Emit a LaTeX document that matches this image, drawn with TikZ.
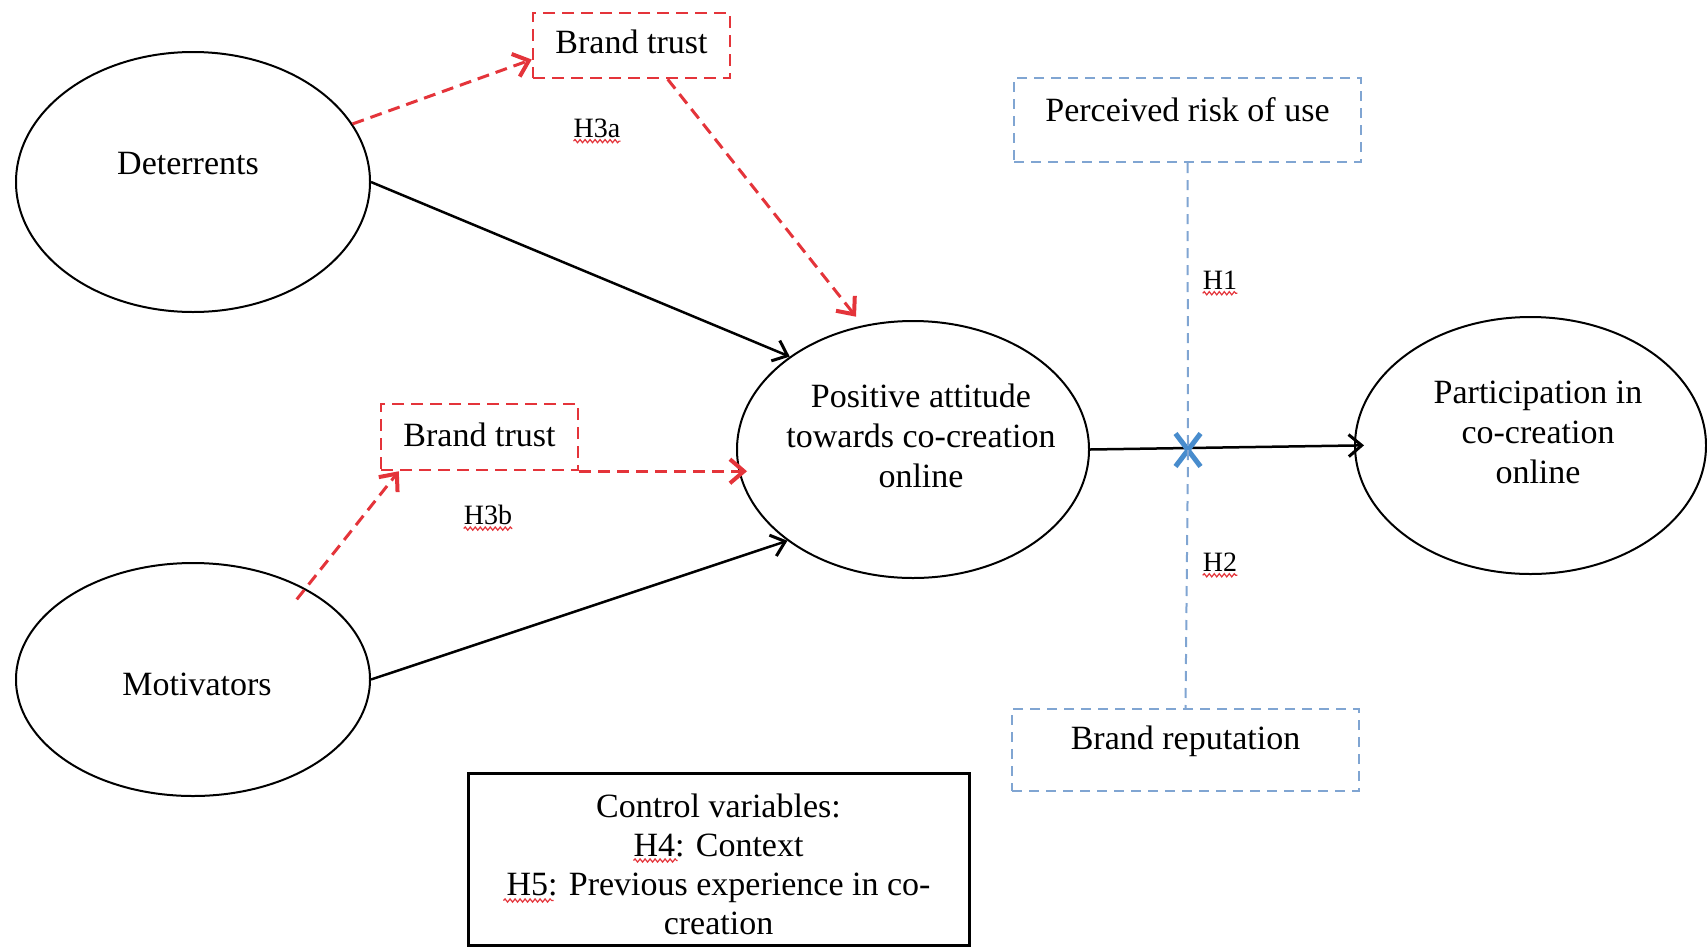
\documentclass[tikz,border=0pt]{standalone}
\usepackage{fontspec}
\setmainfont{Liberation Serif}
\usetikzlibrary{arrows.meta,shapes.geometric,shapes.misc,decorations.pathmorphing,calc}
\definecolor{hypred}{RGB}{228,52,58}
\definecolor{modblue}{RGB}{128,165,210}
\definecolor{crossblue}{RGB}{72,140,205}
\begin{document}
\begin{tikzpicture}[x=1pt,y=-1pt,
  construct/.style={draw, ellipse, line width=2pt, inner sep=0pt},
  lbl/.style={font=\fontsize{34}{40}\selectfont, align=center, inner sep=0pt},
  hyp/.style={font=\fontsize{28}{32}\selectfont, inner sep=0pt},
  redbox/.style={draw=hypred, line width=2.5pt, dash pattern=on 12pt off 7pt, inner sep=0pt,
                 font=\fontsize{34}{40}\selectfont},
  bluebox/.style={draw=modblue, line width=2pt, dash pattern=on 10pt off 7pt, inner sep=0pt,
                  font=\fontsize{34}{40}\selectfont},
  effect/.style={line width=2.5pt, -{Straight Barb[length=13pt,width=22pt,line width=3pt]}},
  moder/.style={hypred, line width=3pt, dash pattern=on 12pt off 7pt,
                -{Straight Barb[length=14pt,width=24pt,line width=4pt]}},
  modline/.style={modblue, line width=2pt, dash pattern=on 10pt off 7pt},
  wavy/.style={hypred, line width=1.2pt, decorate,
               decoration={snake, amplitude=1.6pt, segment length=5pt}}
]
\useasboundingbox (0,0) rectangle (1707,948);

% constructs
\node[construct, minimum width=354pt, minimum height=260pt] (det) at (193,182) {};
\node[construct, minimum width=354pt, minimum height=233pt] (mot) at (193,679.5) {};
\node[construct, minimum width=352pt, minimum height=257pt] (pa) at (913,449.5) {};
\node[construct, minimum width=351pt, minimum height=257pt] (pp) at (1530.5,445.5) {};

\node[lbl] (detT) at (188,164) {Deterrents};
\node[lbl] (motT) at (197,684) {Motivators};
\node[lbl] (paT) at (921,436) {Positive attitude\\towards co-creation\\online};
\node[lbl] (ppT) at (1538,432) {Participation in\\co-creation\\online};

% moderators
\node[redbox, minimum width=197pt, text height=40pt, text depth=25pt] (bt1) at (631.5,45.5) {Brand trust};
\node[redbox, minimum width=197pt, text height=42pt, text depth=24pt] (bt2) at (479.5,437) {Brand trust};
\node[bluebox, minimum width=347pt, text height=43pt, text depth=41pt] (pr) at (1187.5,120) {Perceived risk of use};
\node[bluebox, minimum width=347pt, text height=40pt, text depth=42pt] (br) at (1185.5,750) {Brand reputation};

% control variables
\node[draw, line width=3pt, minimum width=501pt, minimum height=172pt, inner sep=0pt] (cv) at (718.5,859.5) {};
\node[font=\fontsize{34}{39}\selectfont, align=center, inner sep=0pt] (cvT) at (718.5,864.5)
  {Control variables:\\H4: Context\\H5: Previous experience in co-\\creation};

% hypothesis labels
\node[hyp] (h3a) at (597,128) {H3a};
\node[hyp] (h3b) at (488,515) {H3b};
\node[hyp] (h1) at (1220,280) {H1};
\node[hyp] (h2) at (1220,562) {H2};
\foreach \h in {h3a,h3b,h1,h2}
  \draw[wavy] ([yshift=-4pt]\h.base west) -- ([yshift=-4pt]\h.base east);
\draw[wavy] ($(cvT.center)+(-85,-4)$) -- ($(cvT.center)+(-41,-4)$);
\draw[wavy] ($(cvT.center)+(-215,36)$) -- ($(cvT.center)+(-165,36)$);

% direct effects
\draw[effect] (det.east) -- (pa.143);
\draw[effect] (mot.east) -- (pa.216);
\draw[effect, shorten >=-10pt] (pa.east) -- (pp.west);

% brand trust paths
\draw[moder] (det.20) -- (bt1.188);
\draw[moder, shorten >=11pt] (bt1.-43) -- (pa.112);
\draw[moder, shorten <=-14pt] (mot.39) -- (bt2.203);
\draw[moder, shorten >=-11pt] (bt2.south east) -- (bt2.south east -| pa.west);

% moderation of the attitude-participation link
\node[cross out, draw=crossblue, line width=5pt, minimum width=20pt, minimum height=28pt, inner sep=0pt] (mx) at (1188,450) {};
\draw[modline] (pr.south) -- (mx.center);
\draw[modline] (mx.center) -- (br.north);
\end{tikzpicture}
\end{document}
